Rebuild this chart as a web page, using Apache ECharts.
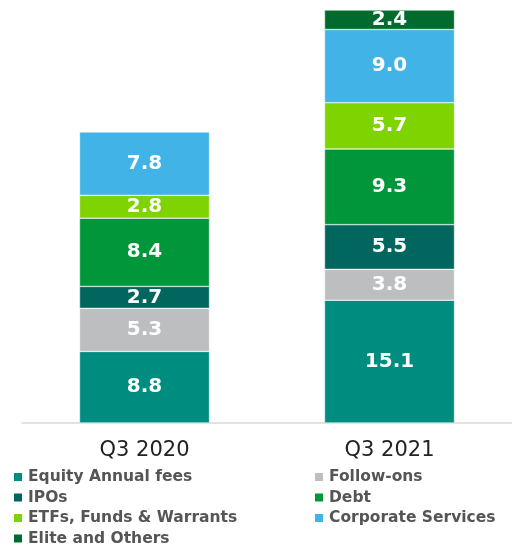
<!DOCTYPE html>
<html>
<head>
<meta charset="utf-8">
<script src="https://cdn.jsdelivr.net/npm/echarts@6/dist/echarts.min.js"></script>
<style>
  html, body { margin: 0; padding: 0; background: #fff; }
  #chart { width: 512px; height: 545px; }
</style>
</head>
<body>
<div id="chart"></div>
<script>
// categories and values
const categories = ['Q3 2020', 'Q3 2021']
const equityFees = [8.8, 15.1]
const followOns = [5.3, 3.8]
const ipos = [2.7, 5.5]
const debt = [8.4, 9.3]
const etfs = [2.8, 5.7]
const corporate = [7.8, 9.0]
const elite = [null, 2.4]

const seriesDefs = [
  { name: 'Equity Annual fees', data: equityFees, color: '#008C7F' },
  { name: 'Follow-ons', data: followOns, color: '#BCBEC0' },
  { name: 'IPOs', data: ipos, color: '#00665E' },
  { name: 'Debt', data: debt, color: '#009639' },
  { name: 'ETFs, Funds & Warrants', data: etfs, color: '#7ED300' },
  { name: 'Corporate Services', data: corporate, color: '#41B3E6' },
  { name: 'Elite and Others', data: elite, color: '#006B2D' }
]

const chart = echarts.init(document.getElementById('chart'))

const legendText = {
  fontFamily: 'DejaVu Sans',
  fontWeight: 'bold',
  fontSize: 15.5,
  color: '#555555'
}

const legendBase = {
  orient: 'vertical',
  top: 469,
  height: 80,
  padding: 0,
  itemWidth: 10,
  itemHeight: 10,
  itemGap: 4.5,
  icon: 'rect',
  textStyle: legendText
}

const option = {
  animation: false,
  grid: { left: 22, right: 0, top: 10, bottom: 122 },
  legend: [
    Object.assign({}, legendBase, {
      left: 12,
      data: ['Equity Annual fees', 'IPOs', 'ETFs, Funds & Warrants', 'Elite and Others']
    }),
    Object.assign({}, legendBase, {
      left: 313,
      data: ['Follow-ons', 'Debt', 'Corporate Services']
    })
  ],
  xAxis: {
    type: 'category',
    data: categories,
    axisLine: { lineStyle: { color: '#D9D9D9', width: 1.5 } },
    axisTick: { show: false },
    axisLabel: {
      fontFamily: 'DejaVu Sans',
      fontSize: 21,
      color: '#222222',
      margin: 17
    }
  },
  yAxis: {
    type: 'value',
    min: 0,
    max: 50.8,
    show: false
  },
  series: seriesDefs.map(s => ({
    name: s.name,
    type: 'bar',
    stack: 'total',
    barWidth: 130,
    data: s.data,
    itemStyle: { color: s.color, borderColor: '#ffffff', borderWidth: 0.5 },
    label: {
      show: true,
      position: 'inside',
      formatter: p => p.value == null ? '' : p.value.toFixed(1),
      fontFamily: 'DejaVu Sans',
      fontWeight: 'bold',
      fontSize: 20,
      color: '#ffffff'
    }
  }))
}

chart.setOption(option)
</script>
</body>
</html>
